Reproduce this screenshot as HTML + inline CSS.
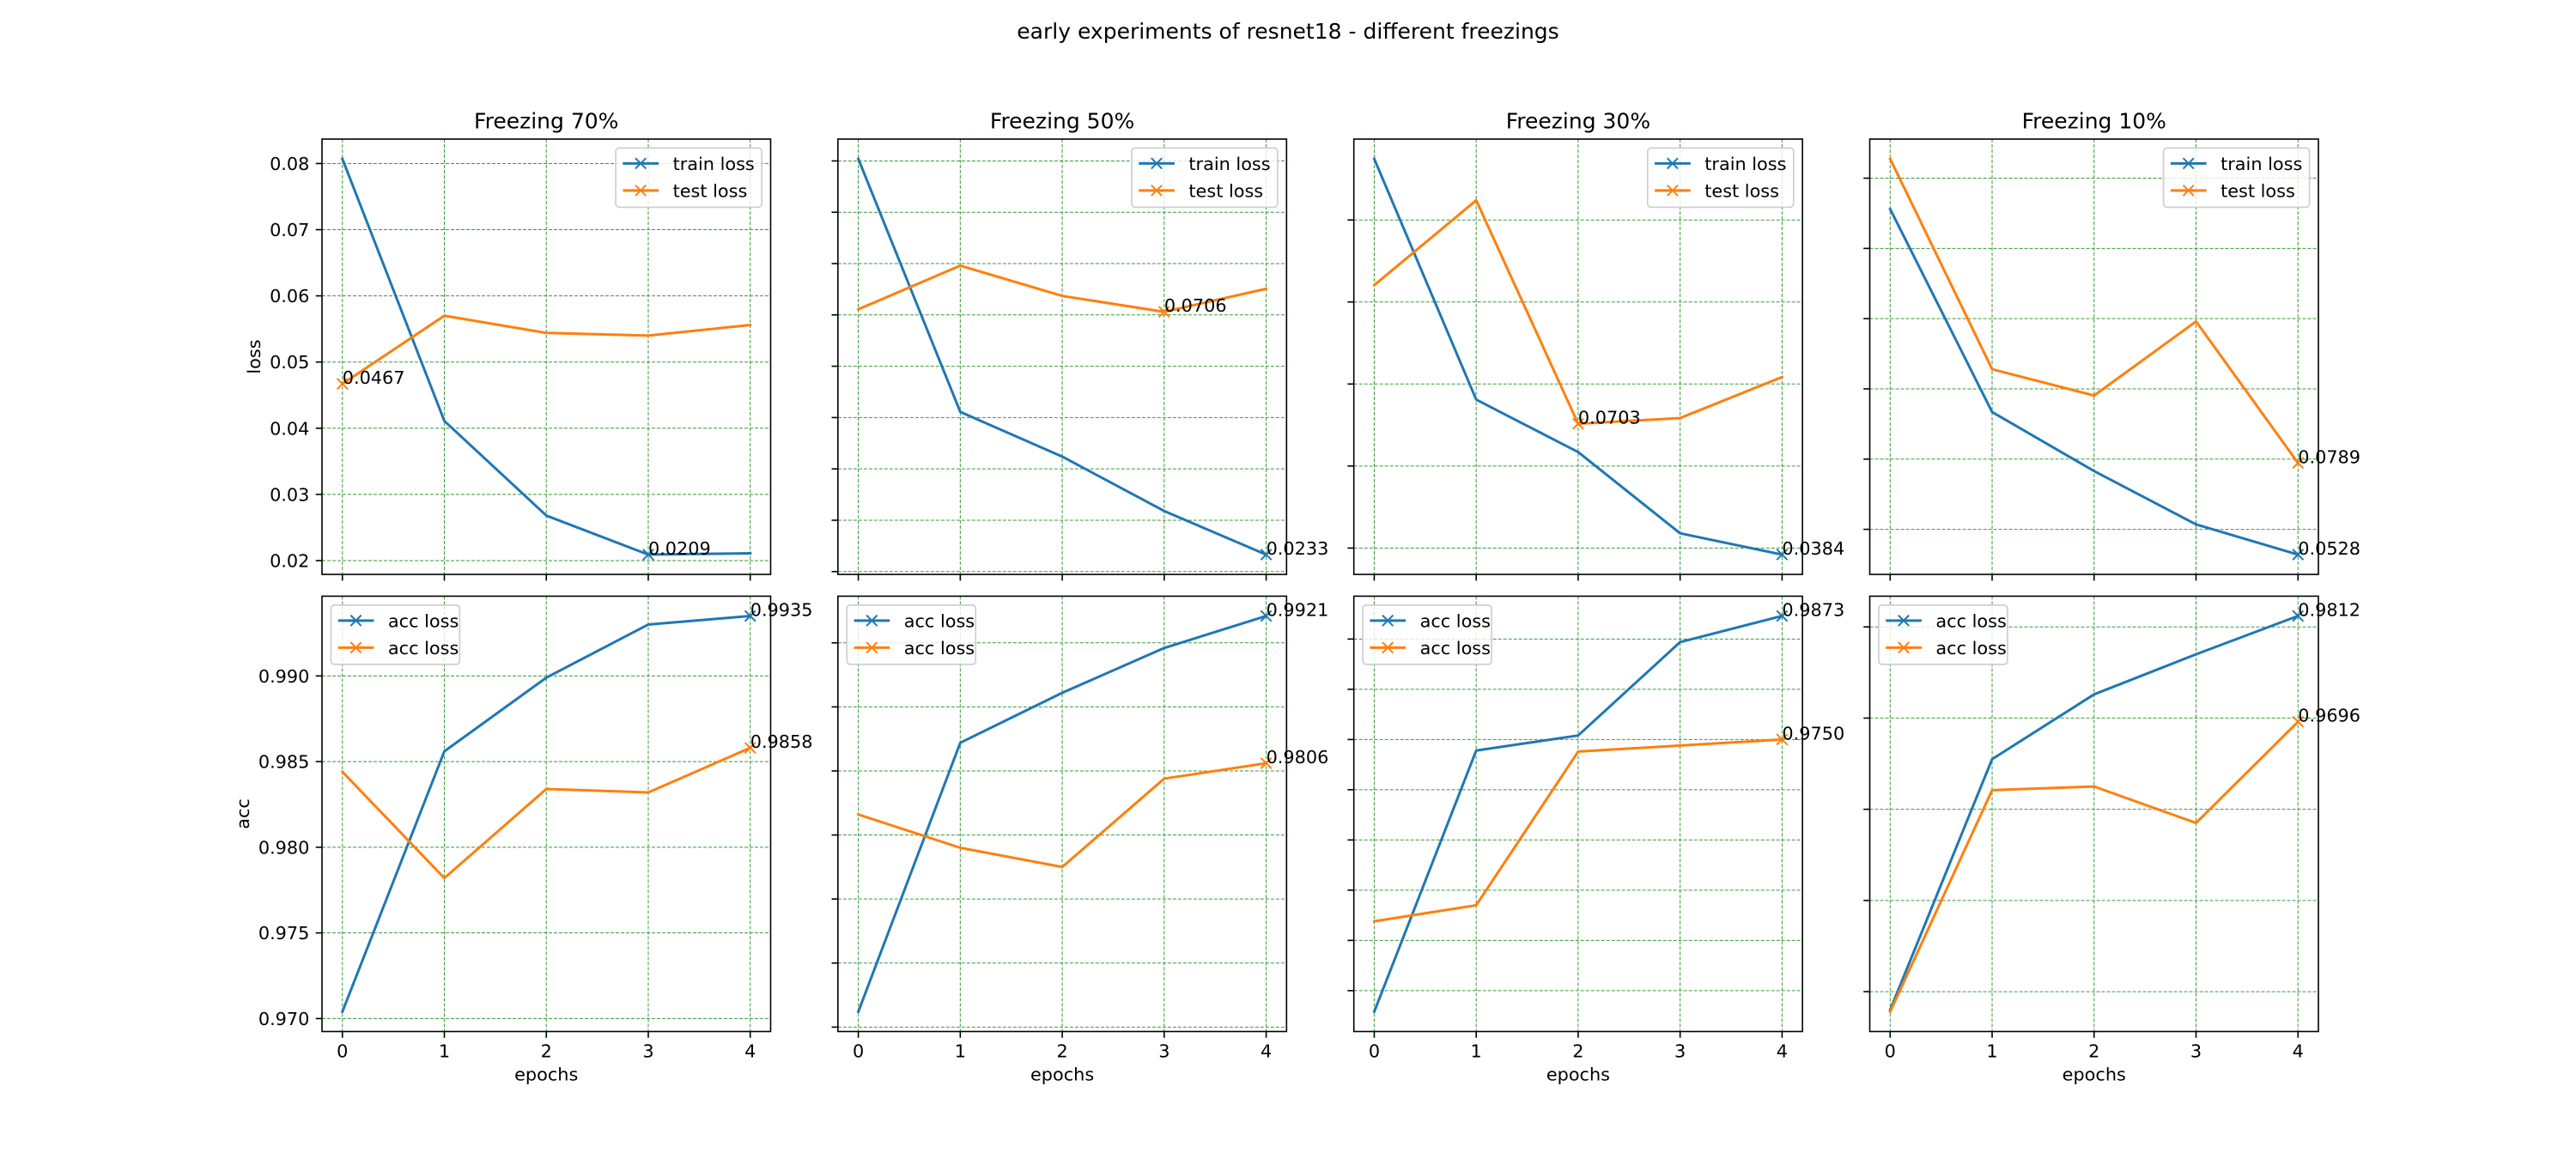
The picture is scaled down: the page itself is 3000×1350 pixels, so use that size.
<!DOCTYPE html>
<html><head><meta charset="utf-8"><style>
html,body{margin:0;padding:0;background:#fff;}
svg{display:block;font-family:"DejaVu Sans","Liberation Sans",sans-serif;}
</style></head><body>
<svg id="fig" width="3000" height="1350" viewBox="0 0 3000 1350" xmlns="http://www.w3.org/2000/svg">
<rect x="0" y="0" width="3000" height="1350" fill="#fff"/>
<text x="1500" y="45" font-size="25" text-anchor="middle" fill="#000">early experiments of resnet18 - different freezings</text>
</svg>
<script>
const epochs = [0, 1, 2, 3, 4];
const panelTitles = ["Freezing 70%", "Freezing 50%", "Freezing 30%", "Freezing 10%"];
const xTickLabels = ["0", "1", "2", "3", "4"];

const trainLoss70 = [0.0807, 0.0411, 0.0268, 0.0209, 0.0211];
const testLoss70  = [0.0467, 0.0570, 0.0544, 0.0540, 0.0556];
const trainLoss50 = [0.1004, 0.0511, 0.0424, 0.0318, 0.0233];
const testLoss50  = [0.0711, 0.0796, 0.0737, 0.0706, 0.0751];
const trainLoss30 = [0.1349, 0.0762, 0.0634, 0.0436, 0.0384];
const testLoss30  = [0.1041, 0.1248, 0.0703, 0.0717, 0.0817];
const trainLoss10 = [0.1512, 0.0934, 0.0766, 0.0614, 0.0528];
const testLoss10  = [0.1655, 0.1056, 0.0981, 0.1192, 0.0789];

const trainAcc70 = [0.9704, 0.9856, 0.9899, 0.9930, 0.9935];
const testAcc70  = [0.9844, 0.9782, 0.9834, 0.9832, 0.9858];
const trainAcc50 = [0.9612, 0.9822, 0.9861, 0.9896, 0.9921];
const testAcc50  = [0.9766, 0.9740, 0.9725, 0.9794, 0.9806];
const trainAcc30 = [0.9479, 0.9739, 0.9754, 0.9847, 0.9873];
const testAcc30  = [0.9569, 0.9585, 0.9738, 0.9744, 0.9750];
const trainAcc10 = [0.9380, 0.9655, 0.9726, 0.9770, 0.9812];
const testAcc10  = [0.9378, 0.9621, 0.9625, 0.9585, 0.9696];

const lossTicks70 = [0.02, 0.03, 0.04, 0.05, 0.06, 0.07, 0.08];
const lossTicks50 = [0.02, 0.03, 0.04, 0.05, 0.06, 0.07, 0.08, 0.09, 0.10];
const lossTicks30 = [0.04, 0.06, 0.08, 0.10, 0.12];
const lossTicks10 = [0.06, 0.08, 0.10, 0.12, 0.14, 0.16];
const accTicks70 = [0.970, 0.975, 0.980, 0.985, 0.990];
const accTicks50 = [0.960, 0.965, 0.970, 0.975, 0.980, 0.985, 0.990];
const accTicks30 = [0.950, 0.955, 0.960, 0.965, 0.970, 0.975, 0.980, 0.985];
const accTicks10 = [0.94, 0.95, 0.96, 0.97, 0.98];
const lossTickLabels70 = ["0.02", "0.03", "0.04", "0.05", "0.06", "0.07", "0.08"];
const accTickLabels70 = ["0.970", "0.975", "0.980", "0.985", "0.990"];

const NS = "http://www.w3.org/2000/svg";
const fig = document.getElementById("fig");
const C1 = "#1f77b4", C2 = "#ff7f0e";
const FS = 20.8;
const GRID = "#3a9a3a";

function mk(tag, attrs, parent, txt) {
  const e = document.createElementNS(NS, tag);
  for (const k in attrs) e.setAttribute(k, attrs[k]);
  if (txt !== undefined) e.textContent = txt;
  (parent || fig).appendChild(e);
  return e;
}

const AW = 2325 / 4.45, GAP = AW * 0.15;
const AH = 1039.5 / 2.05, VGAP = AH * 0.05;
const TOP0 = 162;

const panels = [
  {loss: [trainLoss70, testLoss70], acc: [trainAcc70, testAcc70], lt: lossTicks70, at: accTicks70},
  {loss: [trainLoss50, testLoss50], acc: [trainAcc50, testAcc50], lt: lossTicks50, at: accTicks50},
  {loss: [trainLoss30, testLoss30], acc: [trainAcc30, testAcc30], lt: lossTicks30, at: accTicks30},
  {loss: [trainLoss10, testLoss10], acc: [trainAcc10, testAcc10], lt: lossTicks10, at: accTicks10}
];

function xMark(px, py, r, col, parent) {
  return mk("path", {d: `M${px-r},${py-r}L${px+r},${py+r}M${px-r},${py+r}L${px+r},${py-r}`, stroke: col, "stroke-width": 2, fill: "none"}, parent);
}

function drawAxes(col, row, series, ticks, isLoss) {
  const L = 375 + col * (AW + GAP), R = L + AW;
  const T = TOP0 + row * (AH + VGAP), B = T + AH;
  const g = mk("g", {});
  
  
  const all = series[0].concat(series[1]);
  let mn = Math.min(...all), mx = Math.max(...all);
  const pad = (mx - mn) * 0.05; mn -= pad; mx += pad;
  const xs = v => L + (v + 0.2) / 4.4 * AW;
  const ys = v => B - (v - mn) / (mx - mn) * AH;
  epochs.forEach(e => {
    const l = mk("line", {x1: xs(e), x2: xs(e), y1: T, y2: B, stroke: GRID, "stroke-width": 1, "stroke-dasharray": "4 2"}, g);
    
    
  });
  ticks.forEach(t => {
    const l = mk("line", {x1: L, x2: R, y1: ys(t), y2: ys(t), stroke: GRID, "stroke-width": 1, "stroke-dasharray": "4 2"}, g);
    
    
  });
  epochs.forEach((e, i) => {
    const t = mk("line", {x1: xs(e), x2: xs(e), y1: B, y2: B + 7.3, stroke: "#000", "stroke-width": 1.6}, g);
    
    
    if (row === 1) {
      const tl = mk("text", {x: xs(e), y: B + 30, "font-size": FS, "text-anchor": "middle"}, g, xTickLabels[i]);
      
      
    }
  });
  ticks.forEach((tv, i) => {
    const t = mk("line", {x1: L - 7.3, x2: L, y1: ys(tv), y2: ys(tv), stroke: "#000", "stroke-width": 1.6}, g);
    
    
    if (col === 0) {
      const lab = isLoss ? lossTickLabels70[i] : accTickLabels70[i];
      const tl = mk("text", {x: L - 14.6, y: ys(tv) + 7.5, "font-size": FS, "text-anchor": "end"}, g, lab);
      
      
    }
  });
  [0, 1].forEach(s => {
    const d = series[s];
    const pts = d.map((v, i) => xs(epochs[i]).toFixed(2) + "," + ys(v).toFixed(2)).join(" ");
    const pl = mk("polyline", {points: pts, fill: "none", stroke: s ? C2 : C1, "stroke-width": 3, "stroke-linejoin": "round", "stroke-linecap": "square"}, g);
    
    
    let idx = 0;
    d.forEach((v, i) => { if (isLoss ? v < d[idx] : v > d[idx]) idx = i; });
    const px = xs(epochs[idx]), py = ys(d[idx]);
    const m = xMark(px, py, 6.2, s ? C2 : C1, g);
    
    
    const an = mk("text", {x: px, y: py, "font-size": FS, fill: "#000"}, g, d[idx].toFixed(4));
    
    
  });
  const sp = mk("rect", {x: L, y: T, width: AW, height: AH, fill: "none", stroke: "#000", "stroke-width": 1.6}, g);
  
  
  const labels = isLoss ? ["train loss", "test loss"] : ["acc loss", "acc loss"];
  const lw = isLoss ? 170 : 150, lh = 69;
  const lx = isLoss ? R - 10.4 - lw : L + 10.4, ly = T + 10.4;
  const lg = mk("g", {}, g);
  
  
  mk("rect", {x: lx, y: ly, width: lw, height: lh, rx: 4, fill: "#fff", "fill-opacity": 0.8, stroke: "#cccccc", "stroke-width": 1.6}, lg);
  labels.forEach((lab, k) => {
    const cy = ly + 7 + 11 + k * (22 + 9.5);
    const col2 = k ? C2 : C1;
    const hl = mk("line", {x1: lx + 8.3, x2: lx + 50, y1: cy, y2: cy, stroke: col2, "stroke-width": 3}, lg);
    
    
    xMark(lx + 29.1, cy, 6.2, col2, lg);
    const tx = mk("text", {x: lx + 66.5, y: cy + 7.5, "font-size": FS}, lg, lab);
    
    
  });
  if (row === 0) {
    const tt = mk("text", {x: (L + R) / 2, y: T - 12.5, "font-size": 25, "text-anchor": "middle"}, g, panelTitles[col]);
    
    
  } else {
    const xl = mk("text", {x: (L + R) / 2, y: B + 57, "font-size": FS, "text-anchor": "middle"}, g, "epochs");
    
    
  }
  if (col === 0) {
    const cy = (T + B) / 2;
    const yl = mk("text", {x: 0, y: 0, "font-size": FS, "text-anchor": "middle", transform: `translate(${isLoss ? 303 : 290},${cy}) rotate(-90)`}, g, isLoss ? "loss" : "acc");
    
    
  }
}

panels.forEach((p, c) => {
  drawAxes(c, 0, p.loss, p.lt, true);
  drawAxes(c, 1, p.acc, p.at, false);
});
</script>
</body></html>
